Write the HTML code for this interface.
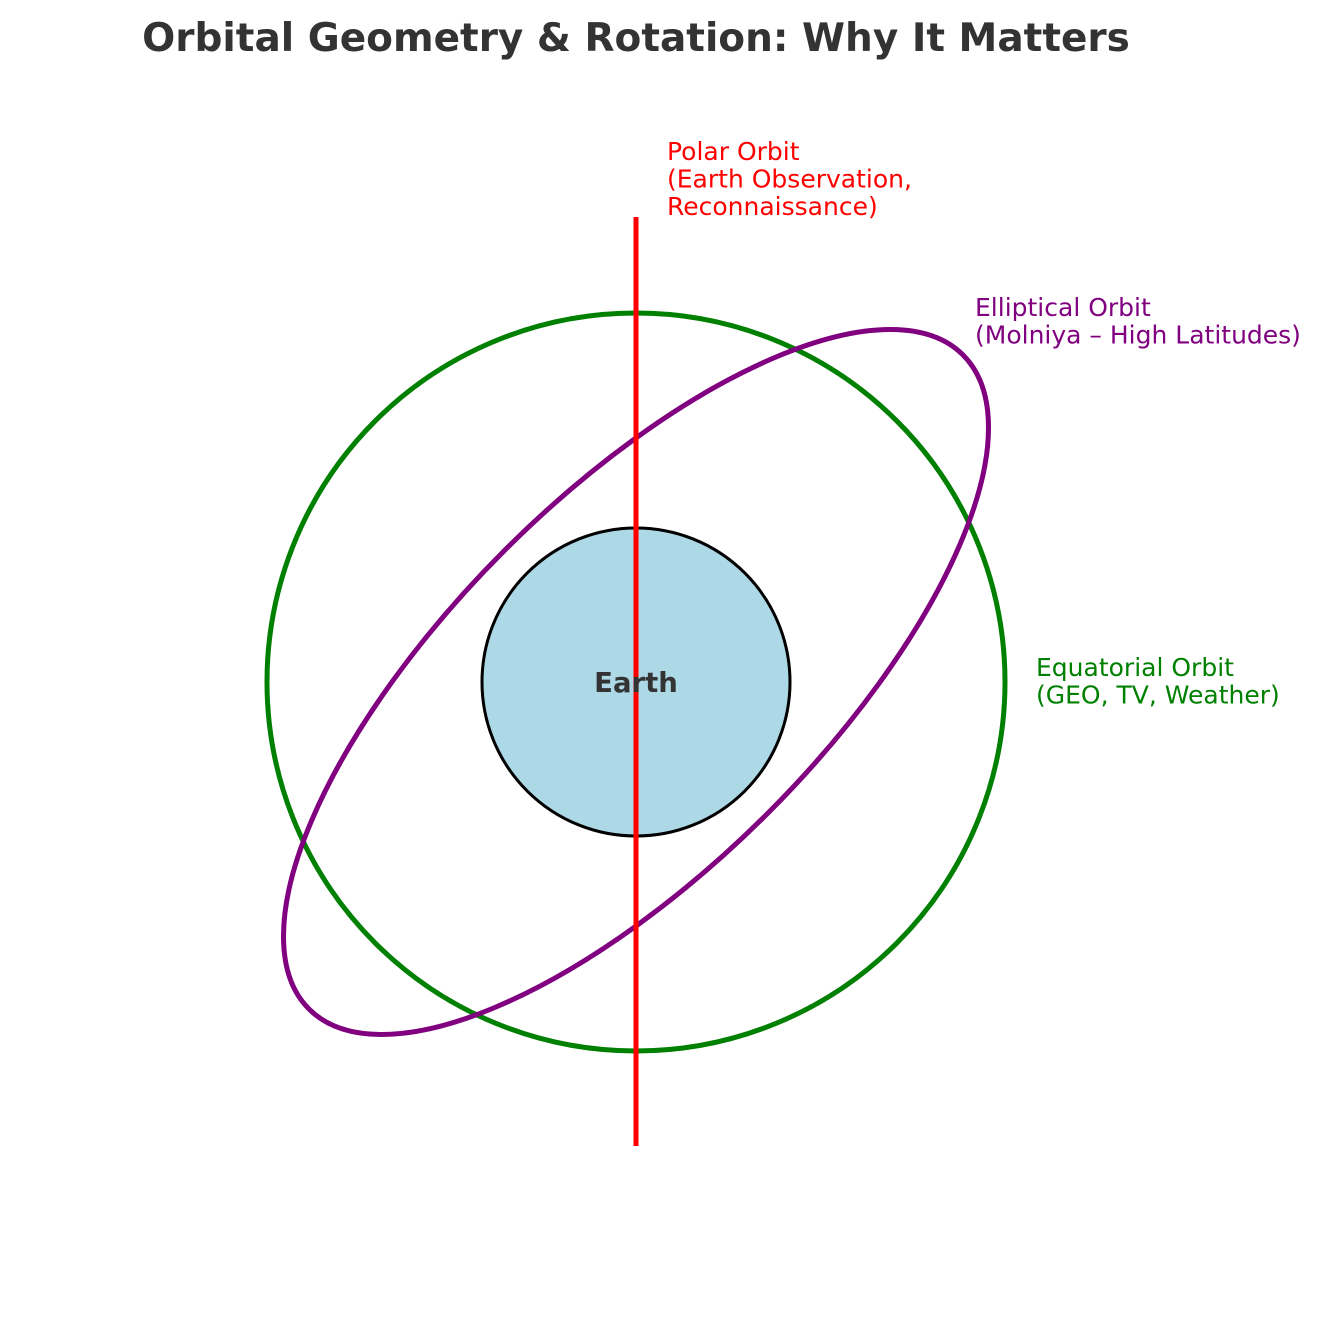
<!DOCTYPE html>
<html><head><meta charset="utf-8"><style>
html,body{margin:0;padding:0;background:#fff;}
svg{display:block;font-family:"DejaVu Sans","Liberation Sans",sans-serif;}
</style></head><body>
<svg width="1321" height="1318" viewBox="0 0 1321 1318" xmlns="http://www.w3.org/2000/svg">
<rect width="1321" height="1318" fill="#fff"/>
<text x="636" y="51" text-anchor="middle" font-size="39" font-weight="bold" fill="#333">Orbital Geometry &amp; Rotation: Why It Matters</text>
<circle cx="636" cy="682" r="154" fill="#add8e6" stroke="#000" stroke-width="3"/>
<circle cx="636" cy="682" r="369" fill="none" stroke="#008000" stroke-width="5"/>
<ellipse cx="636" cy="682" rx="462.5" ry="186" transform="rotate(-45 636 682)" fill="none" stroke="#800080" stroke-width="5"/>
<line x1="636" y1="217" x2="636" y2="1146" stroke="#ff0000" stroke-width="5"/>
<text x="636" y="692" text-anchor="middle" font-size="27.5" font-weight="bold" fill="#333">Earth</text>
<g font-size="25">
<text fill="#ff0000"><tspan x="667" y="160">Polar Orbit</tspan><tspan x="667" y="187.5">(Earth Observation,</tspan><tspan x="667" y="215">Reconnaissance)</tspan></text>
<text fill="#800080"><tspan x="975" y="316">Elliptical Orbit</tspan><tspan x="975" y="343.5">(Molniya – High Latitudes)</tspan></text>
<text fill="#008000"><tspan x="1036" y="676">Equatorial Orbit</tspan><tspan x="1036" y="703.5">(GEO, TV, Weather)</tspan></text>
</g>
</svg>
</body></html>
